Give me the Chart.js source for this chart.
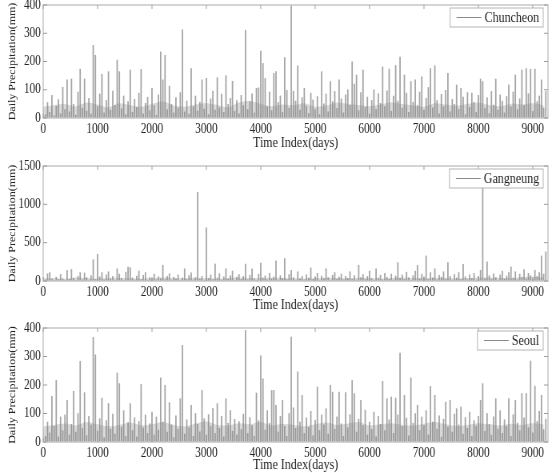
<!DOCTYPE html>
<html>
<head>
<meta charset="utf-8">
<script src="https://cdn.jsdelivr.net/npm/chart.js@4"></script>
<style>
  body { margin: 0; background: #fff; width: 553px; height: 473px; overflow: hidden; position: relative; }
  .panel { position: absolute; left: 0; width: 691px; transform: scaleX(0.8); transform-origin: 0 0; }
  canvas { display: block; }
</style>
</head>
<body>
<div class="panel" style="top:0px"><canvas id="c1" width="691" height="151"></canvas></div>
<div class="panel" style="top:150px"><canvas id="c2" width="691" height="163"></canvas></div>
<div class="panel" style="top:313px"><canvas id="c3" width="691" height="160"></canvas></div>
<script>
// daily precipitation, every 40 days (peaks kept)
const dayStep = 40;
// typical level of the dense low band, every 200 days
const baseStep = 200;
const xMax = 9280;
const xTicks = [0, 1000, 2000, 3000, 4000, 5000, 6000, 7000, 8000, 9000];

const chuncheon = [
  38,12,55,20,80,8,42,65,15,109,30,135,22,138,48,10,92,173,35,138,
  25,70,14,257,222,40,85,155,18,62,164,28,95,45,205,164,33,78,12,58,
  170,20,66,38,88,172,15,52,74,26,105,44,9,82,234,135,222,30,113,48,
  18,72,35,90,312,22,60,14,175,40,78,25,56,135,32,140,12,68,95,28,
  143,36,85,20,150,48,70,130,24,62,15,80,44,310,30,58,86,18,105,107,
  237,193,140,40,92,26,158,164,55,78,20,214,98,35,400,95,60,185,28,72,
  105,42,16,88,64,30,76,12,164,50,85,22,129,58,94,34,135,68,18,82,
  100,45,199,120,152,26,90,170,38,74,14,62,100,30,86,52,181,40,96,173,
  24,78,186,60,216,35,152,88,20,129,56,135,44,92,146,28,70,108,175,36,
  185,62,15,84,40,98,158,22,66,48,117,30,105,74,12,90,38,88,56,20,
  80,138,129,34,72,16,94,46,138,28,82,60,18,76,117,40,92,152,30,68,
  170,44,175,86,173,24,173,58,78,135,36,94
];
const chuncheonBase = [
  40,45,50,42,55,48,38,52,45,40,50,58,44,40,48,52,46,38,55,60,50,42,48,45,
  52,40,44,55,50,46,42,48,56,50,45,40,52,48,44,50,55,46,42,50,48,52,45
];

const gangneung = [
  40,12,95,110,25,8,50,18,85,30,10,140,22,150,35,6,60,110,15,105,
  45,12,70,279,20,349,55,110,14,80,120,25,60,10,160,90,30,8,115,180,
  175,40,12,65,130,20,75,110,10,45,25,90,15,55,30,205,18,60,95,12,
  50,28,80,8,40,160,20,70,105,15,45,1155,25,60,10,693,35,80,18,222,
  40,95,12,55,160,25,70,130,10,50,85,20,60,222,15,75,160,30,10,90,
  235,40,65,15,100,28,55,262,12,70,35,292,20,85,140,45,10,120,30,60,
  15,80,40,170,20,55,100,10,65,30,160,45,12,75,110,25,50,90,15,60,
  35,120,20,70,10,205,45,85,18,60,130,30,8,160,40,75,15,100,50,25,
  90,12,65,240,35,80,20,115,45,10,70,130,205,30,90,55,327,20,110,40,
  160,15,75,50,120,25,240,60,10,85,40,110,20,218,55,15,80,35,100,12,
  60,140,1250,30,250,70,20,95,45,10,80,130,25,65,110,183,40,120,15,90,
  50,150,30,100,70,20,140,60,110,327,90,380
];
const gangneungBase = [
  35,40,30,45,38,32,40,42,35,30,38,45,40,36,42,35,30,40,45,38,35,42,40,36,
  30,38,44,40,35,42,38,32,40,46,38,35,42,40,34,38,42,45,40,38,50,55,48
];

const seoul = [
  45,20,70,32,160,55,216,18,88,40,95,146,25,62,178,35,100,283,48,173,
  22,90,60,367,306,38,82,154,15,75,135,45,98,28,242,205,52,110,20,68,
  135,40,85,18,72,202,50,95,30,64,105,25,88,42,225,70,199,35,138,60,
  15,92,45,152,339,28,78,50,129,20,100,62,36,181,82,24,96,55,118,30,
  135,48,90,18,152,66,110,38,80,25,72,44,98,392,30,86,58,20,172,75,
  302,222,42,110,65,181,181,129,35,90,146,55,20,100,368,120,48,246,70,164,
  30,85,52,108,22,76,193,40,95,60,117,28,199,175,45,88,175,64,20,173,
  50,96,216,170,35,80,146,58,112,25,70,44,105,18,90,62,213,40,152,78,
  158,30,154,95,312,55,164,84,22,225,66,100,129,40,88,58,110,25,195,70,
  164,45,92,18,80,140,52,146,35,98,117,60,123,28,86,48,105,20,75,56,
  90,146,205,38,100,62,24,88,152,45,110,30,78,55,152,20,96,146,66,40,
  170,85,170,50,284,32,196,72,108,164,44,80
];
const seoulBase = [
  55,60,65,58,70,62,55,60,68,58,62,70,60,55,65,72,60,58,66,62,70,58,64,60,
  55,62,68,60,65,70,58,62,66,60,58,64,70,62,56,60,66,62,58,64,60,66,62
];

const serif = "'Liberation Serif', 'Times New Roman', serif";

const framePlugin = {
  id: 'frame',
  afterDatasetsDraw(chart) {
    const { ctx, chartArea: a, scales: { x, y } } = chart;
    ctx.save();
    // axis box
    ctx.strokeStyle = '#c6c6c6';
    ctx.lineWidth = 1.5;
    ctx.strokeRect(a.left, a.top, a.right - a.left, a.bottom - a.top);
    // inward tick marks
    ctx.strokeStyle = '#9c9c9c';
    ctx.lineWidth = 1;
    ctx.beginPath();
    x.ticks.forEach(t => {
      const px = x.getPixelForValue(t.value);
      ctx.moveTo(px, a.top); ctx.lineTo(px, a.top + 4);
      ctx.moveTo(px, a.bottom); ctx.lineTo(px, a.bottom - 4);
    });
    y.ticks.forEach(t => {
      const py = y.getPixelForValue(t.value);
      ctx.moveTo(a.left, py); ctx.lineTo(a.left + 5, py);
      ctx.moveTo(a.right, py); ctx.lineTo(a.right - 5, py);
    });
    ctx.stroke();
    // legend box
    const name = chart.data.datasets[0].label;
    ctx.font = '15px ' + serif;
    const tw = ctx.measureText(name).width;
    const w = 8 + 31 + 4 + tw + 5, h = 19;
    const bx = a.right - 6 - w, by = a.top + 3;
    ctx.fillStyle = '#fff';
    ctx.fillRect(bx, by, w, h);
    ctx.strokeStyle = '#b4b4b4';
    ctx.strokeRect(bx, by, w, h);
    ctx.strokeStyle = '#8a8a8a';
    ctx.beginPath();
    ctx.moveTo(bx + 8, by + h / 2); ctx.lineTo(bx + 39, by + h / 2);
    ctx.stroke();
    ctx.fillStyle = '#222';
    ctx.textBaseline = 'middle';
    ctx.fillText(name, bx + 43, by + h / 2 + 1);
    ctx.restore();
  }
};

function makeChart(id, name, values, base, yMax, yStep, padTop, xAxisH) {
  const points = values.map((v, i) => ({ x: i * dayStep, y: v }));
  const band = base.map((v, i) => ({ x: i * baseStep, y: v }));
  new Chart(document.getElementById(id), {
    type: 'bar',
    data: {
      datasets: [{
        type: 'bar',
        label: name,
        data: points,
        backgroundColor: 'rgba(125,125,125,0.7)',
        barThickness: 1.1,
        order: 1
      }, {
        type: 'line',
        label: name + ' band',
        data: band,
        borderWidth: 0,
        backgroundColor: 'rgba(140,140,140,0.33)',
        fill: 'origin',
        pointRadius: 0,
        tension: 0.3,
        order: 2
      }]
    },
    options: {
      responsive: false,
      animation: false,
      devicePixelRatio: 1,
      layout: { padding: { top: padTop, right: 6, left: 10, bottom: 0 } },
      plugins: { legend: { display: false }, tooltip: { enabled: false } },
      scales: {
        x: {
          type: 'linear',
          offset: false,
          min: 0,
          max: xMax,
          afterBuildTicks: s => { s.ticks = xTicks.map(v => ({ value: v })); },
          afterFit: s => { s.height = xAxisH; s.paddingLeft = 0; s.paddingRight = 0; },
          grid: { display: false, drawTicks: false, offset: false },
          border: { display: false },
          ticks: { padding: 3, maxRotation: 0, autoSkip: false, color: '#222', font: { family: serif, size: 14 }, callback: v => String(v) },
          title: { display: true, text: 'Time Index(days)', color: '#222', padding: { top: 0, bottom: 0 }, font: { family: serif, size: 15, lineHeight: 1 } }
        },
        y: {
          min: 0,
          max: yMax,
          afterFit: s => { s.width = 44; s.paddingTop = 0; s.paddingBottom = 0; },
          grid: { display: false, drawTicks: false },
          border: { display: false },
          ticks: { stepSize: yStep, padding: 3, color: '#222', font: { family: serif, size: 14 }, callback: v => String(v) },
          title: { display: true, text: 'Daily Precipitation(mm)', color: '#222', padding: { top: 0, bottom: 0 }, font: { family: serif, size: 12, lineHeight: 1 } }
        }
      }
    },
    plugins: [framePlugin]
  });
}

makeChart('c1', 'Chuncheon', chuncheon, chuncheonBase, 400, 100, 5, 33);
makeChart('c2', 'Gangneung', gangneung, gangneungBase, 1500, 500, 16, 32);
makeChart('c3', 'Seoul', seoul, seoulBase, 400, 100, 15, 31);
</script>
</body>
</html>
